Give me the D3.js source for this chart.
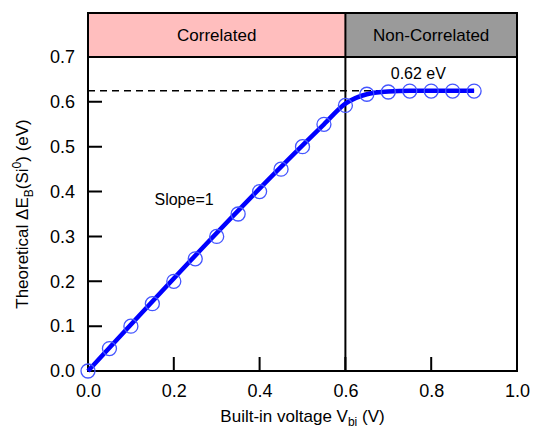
<!DOCTYPE html>
<html>
<head>
<meta charset="utf-8">
<script src="https://cdn.jsdelivr.net/npm/d3@7"></script>
<style>
  body { margin: 0; background: #fff; }
  text { font-family: "Liberation Sans", Arial, sans-serif; fill: #000; }
</style>
</head>
<body>
<div id="chart"></div>
<script>
// data
const vbi    = [0, 0.05, 0.1, 0.15, 0.2, 0.25, 0.3, 0.35, 0.4, 0.45, 0.5, 0.55, 0.6, 0.65, 0.7, 0.75, 0.8, 0.85, 0.9];
const dEb    = [0, 0.05, 0.1, 0.15, 0.2, 0.25, 0.3, 0.35, 0.4, 0.45, 0.5, 0.55, 0.592, 0.617, 0.622, 0.624, 0.624, 0.624, 0.624];
const fitX   = [0, 0.55, 0.6, 0.65, 0.7, 0.75, 0.9];
const fitY   = [0, 0.55, 0.596, 0.617, 0.623, 0.625, 0.625];
const plateau = 0.625;
const boundary = 0.6;
const regions = ["Correlated", "Non-Correlated"];
const xTicks = [0, 0.2, 0.4, 0.6, 0.8, 1.0];
const yTicks = [0, 0.1, 0.2, 0.3, 0.4, 0.5, 0.6, 0.7];

const W = 533, H = 428;
const margin = {top: 57, right: 16, bottom: 57, left: 88};
const width = W - margin.left - margin.right,
      height = H - margin.top - margin.bottom;
const headerH = 44;

const svg = d3.select("#chart").append("svg")
    .attr("width", W).attr("height", H)
  .append("g")
    .attr("transform", "translate(" + margin.left + "," + margin.top + ")");

const x = d3.scaleLinear().domain([0, 1]).range([0, width]);
const y = d3.scaleLinear().domain([0, 0.7]).range([height, 0]);

// header boxes
svg.append("rect")
  .attr("x", x(0)).attr("y", -headerH)
  .attr("width", x(boundary) - x(0)).attr("height", headerH)
  .attr("fill", "#ffbebe");
svg.append("rect")
  .attr("x", x(boundary)).attr("y", -headerH)
  .attr("width", x(1) - x(boundary)).attr("height", headerH)
  .attr("fill", "#9a9a9a");
svg.append("rect")
  .attr("x", 0).attr("y", -headerH)
  .attr("width", width).attr("height", headerH)
  .attr("fill", "none").attr("stroke", "#000").attr("stroke-width", 2);
svg.selectAll("text.region")
  .data(regions)
  .enter().append("text")
    .attr("class", "region")
    .attr("x", (d, i) => i == 0 ? (x(0) + x(boundary)) / 2 : (x(boundary) + x(1)) / 2)
    .attr("y", -headerH / 2 + 6)
    .attr("text-anchor", "middle")
    .style("font-size", "17px")
    .text(d => d);

// axes (labels only, ticks drawn inward below)
svg.append("g")
  .attr("transform", "translate(0," + height + ")")
  .call(d3.axisBottom(x).tickValues(xTicks).tickSize(0).tickPadding(13)
        .tickFormat(d3.format(".1f")))
  .call(g => g.select(".domain").remove())
  .call(g => g.selectAll("text").style("font-size", "18px"));

svg.append("g")
  .call(d3.axisLeft(y).tickValues(yTicks).tickSize(0).tickPadding(13)
        .tickFormat(d3.format(".1f")))
  .call(g => g.select(".domain").remove())
  .call(g => g.selectAll("text").style("font-size", "18px"));

// frame
svg.append("rect")
  .attr("width", width).attr("height", height)
  .attr("fill", "none").attr("stroke", "#000").attr("stroke-width", 2);

// boundary line
svg.append("line")
  .attr("x1", x(boundary)).attr("x2", x(boundary))
  .attr("y1", -headerH).attr("y2", height)
  .attr("stroke", "#000").attr("stroke-width", 2);

// inward ticks
const tickPath = d3.path();
xTicks.forEach(d => { tickPath.moveTo(x(d), height); tickPath.lineTo(x(d), height - 14); });
yTicks.forEach(d => { tickPath.moveTo(0, y(d)); tickPath.lineTo(14, y(d)); });
svg.append("path")
  .attr("d", tickPath.toString())
  .attr("fill", "none")
  .attr("stroke", "#000")
  .attr("stroke-width", 2);

// plateau dashed line
svg.append("line")
  .attr("x1", x(0)).attr("x2", x(0.9))
  .attr("y1", y(plateau)).attr("y2", y(plateau))
  .attr("stroke", "#000").attr("stroke-width", 1.5)
  .attr("stroke-dasharray", "7,5");

// fitted curve
const fit = fitX.map((d, i) => [d, fitY[i]]);
svg.append("path")
  .datum(fit)
  .attr("fill", "none")
  .attr("stroke", "#0000ff")
  .attr("stroke-width", 4.5)
  .attr("d", d3.line().x(d => x(d[0])).y(d => y(d[1])).curve(d3.curveMonotoneX));

// data circles
svg.selectAll("circle.pt")
  .data(vbi)
  .enter().append("circle")
    .attr("class", "pt")
    .attr("cx", d => x(d))
    .attr("cy", (d, i) => y(dEb[i]))
    .attr("r", 7)
    .attr("fill", "none")
    .attr("stroke", "#4455ff")
    .attr("stroke-width", 1.3);

// annotations
svg.append("text")
  .attr("x", x(0.77)).attr("y", y(0.651))
  .attr("text-anchor", "middle")
  .style("font-size", "16px")
  .text("0.62 eV");
svg.append("text")
  .attr("x", x(0.155)).attr("y", y(0.37))
  .style("font-size", "16px")
  .text("Slope=1");

// axis titles
const xt = svg.append("text")
  .attr("x", width / 2).attr("y", height + 51)
  .attr("text-anchor", "middle")
  .style("font-size", "17px");
xt.append("tspan").text("Built-in voltage V");
xt.append("tspan").attr("dy", 4).style("font-size", "12px").text("bi");
xt.append("tspan").attr("dy", -4).text(" (V)");

const yt = svg.append("text")
  .attr("transform", "translate(" + (-60) + "," + (height / 2) + ") rotate(-90)")
  .attr("text-anchor", "middle")
  .style("font-size", "17px");
yt.append("tspan").text("Theoretical \u0394E");
yt.append("tspan").attr("dy", 5).style("font-size", "12px").text("B");
yt.append("tspan").attr("dy", -5).text("(Si");
yt.append("tspan").attr("dy", -7).style("font-size", "12px").text("0");
yt.append("tspan").attr("dy", 7).text(") (eV)");
</script>
</body>
</html>
